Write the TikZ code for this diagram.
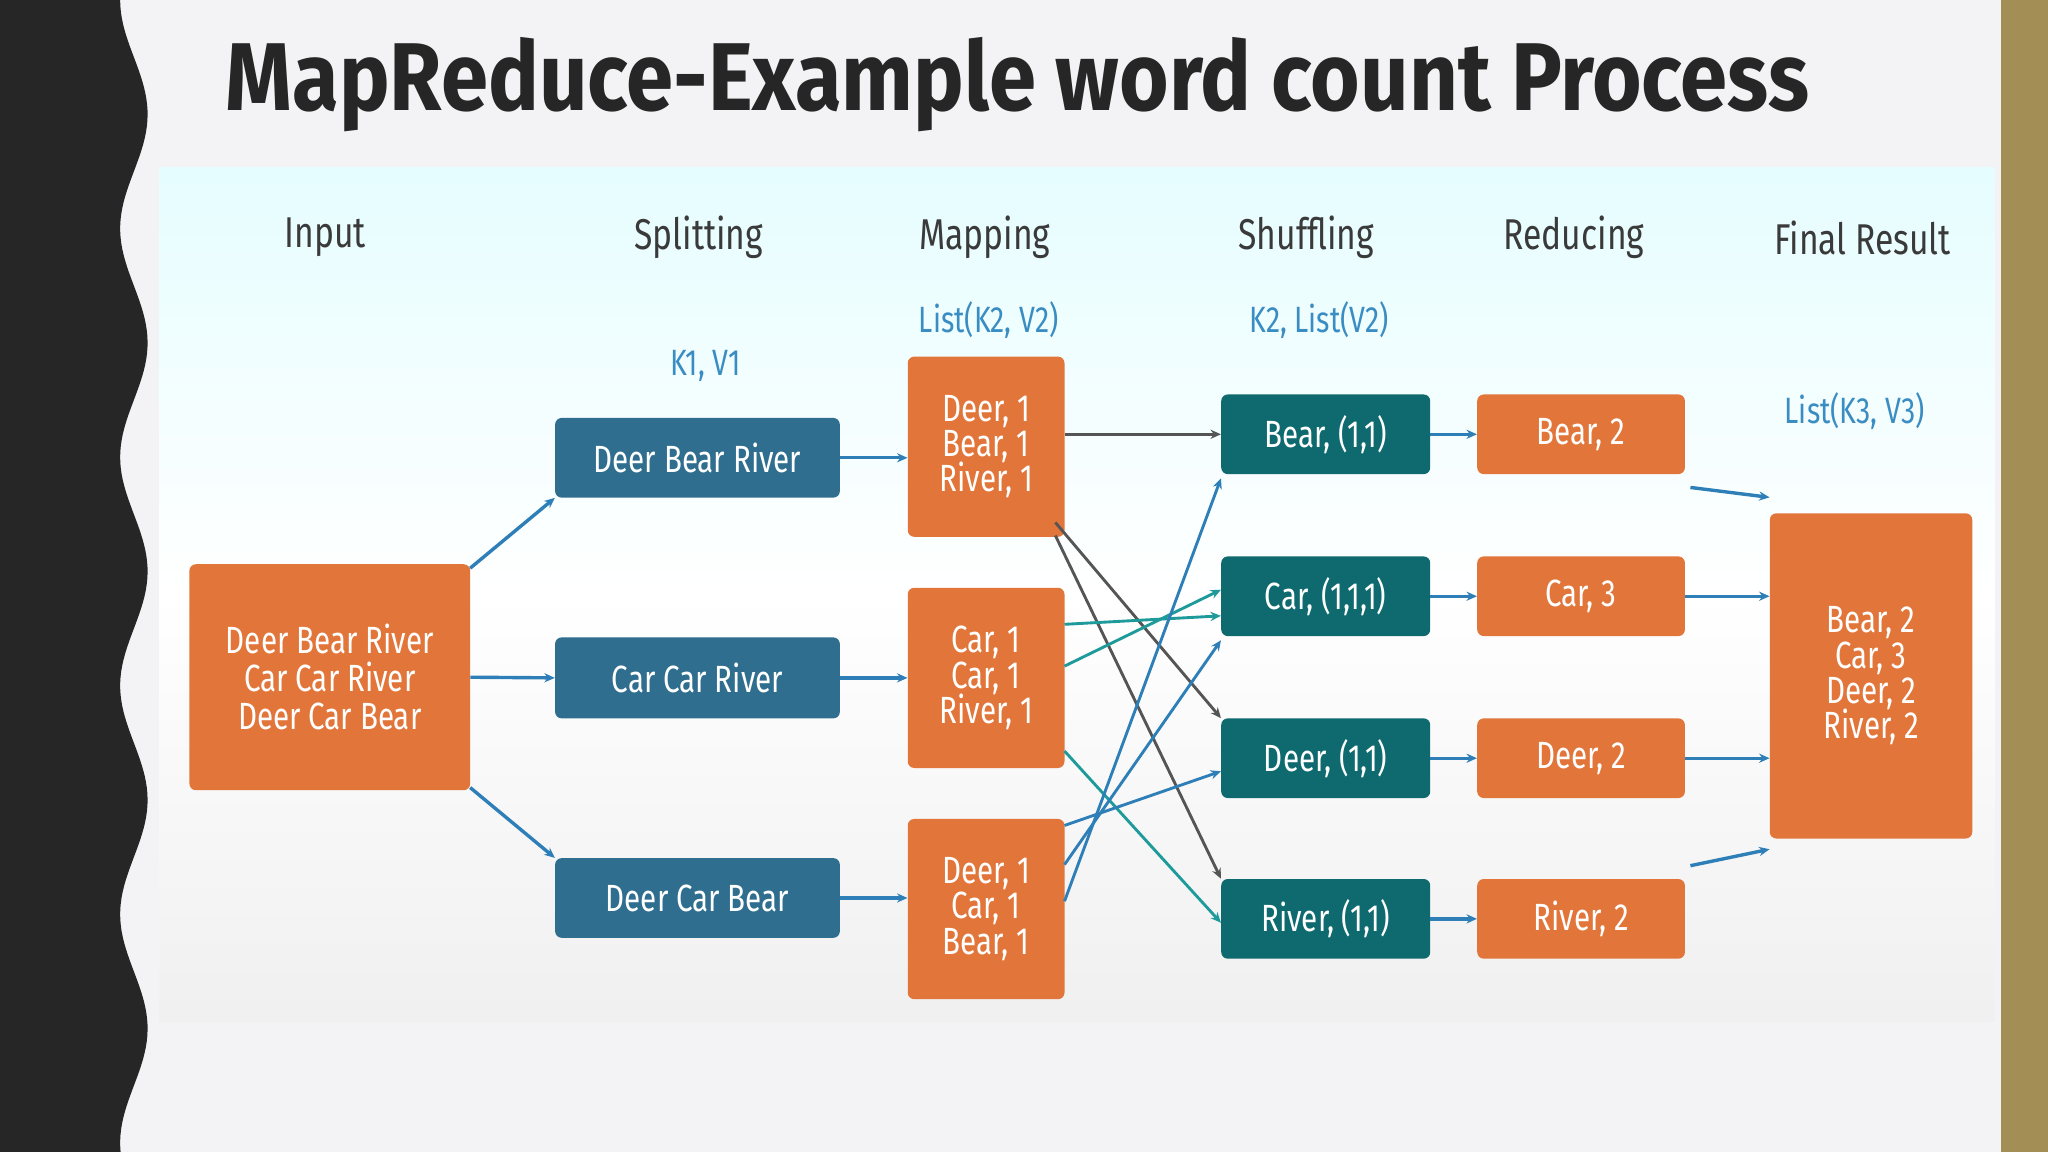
\documentclass[tikz,border=0pt]{standalone}
\usepackage{fontspec}
\setmainfont{Fira Sans}
\newfontfamily\cond[FakeStretch=0.78]{Fira Sans}
\newfontfamily\titlef[FakeStretch=0.72]{Fira Sans}
\usetikzlibrary{arrows.meta}
\definecolor{bgc}{HTML}{F3F3F5}
\definecolor{darkband}{HTML}{262626}
\definecolor{gold}{HTML}{A38F55}
\definecolor{org}{HTML}{E2763A}
\definecolor{blu}{HTML}{2F6E8E}
\definecolor{tea}{HTML}{0E6A6E}
\definecolor{lbl}{HTML}{3A8DC2}
\definecolor{hdr}{HTML}{3A3A3A}
\definecolor{lnblue}{HTML}{2E7FB8}
\definecolor{lngray}{HTML}{555555}
\definecolor{lnteal}{HTML}{1E9A9A}
\tikzset{
  x=1pt,y=-1pt,
  box/.style={rounded corners=5pt,text=white,font=\cond\fontsize{29}{32}\selectfont,inner sep=0pt,align=center},
  obox/.style={box,fill=org},
  bbox/.style={box,fill=blu},
  tbox/.style={box,fill=tea},
  hd/.style={font=\cond\fontsize{33}{36}\selectfont,text=hdr},
  kv/.style={font=\cond\fontsize{28}{30}\selectfont,text=lbl},
  ar/.style={-{Stealth[length=8pt,width=7pt]},line width=2.6pt,draw=lnblue},
  cr/.style={-{Stealth[length=8pt,width=7pt]},line width=2.2pt}
}
\begin{document}
\begin{tikzpicture}
\useasboundingbox (0,0) rectangle (1568,882);
\fill[bgc] (0,0) rectangle (1568,882);
\fill[darkband] (0,0) -- plot[domain=0:882,samples=200,variable=\t] ({102.5-10.5*cos(2.05714*\t)},\t) -- (0,882) -- cycle;
\fill[gold] (1532,0) rectangle (1568,882);
\node[anchor=center,text=darkband] (title) at (779,65) {\resizebox{1212pt}{56pt}{\titlef\bfseries\fontsize{60}{64}\selectfont MapReduce-Example word count Process}};
% panel
\shade[top color=blue!8!cyan!10!white,bottom color=gray!12,middle color=white] (122,128) rectangle (1527,782);
% headers
\node[hd] (h1) at (249,182) {Input};
\node[hd] (h2) at (535,182) {Splitting};
\node[hd] (h3) at (754,182) {Mapping};
\node[hd] (h4) at (1000,182) {Shuffling};
\node[hd] (h5) at (1205,182) {Reducing};
\node[hd] (h6) at (1426,182) {Final Result};
\node[kv] (k1) at (540,280) {K1, V1};
\node[kv] (k2) at (757,245) {List(K2, V2)};
\node[kv] (k3) at (1010,245) {K2, List(V2)};
\node[kv] (k4) at (1420,315) {List(K3, V3)};
% boxes
\node[obox,minimum width=215pt,minimum height=173pt] (in) at (252.5,518.5) {Deer Bear River\\[-3pt]Car Car River\\[-3pt]Deer Car Bear};
\node[bbox,minimum width=218pt,minimum height=61pt] (s1) at (534,350.5) {Deer Bear River};
\node[bbox,minimum width=218pt,minimum height=62pt] (s2) at (534,519) {Car Car River};
\node[bbox,minimum width=218pt,minimum height=61pt] (s3) at (534,687.5) {Deer Car Bear};
\node[obox,minimum width=120pt,minimum height=138pt] (m1) at (755,342) {Deer, 1\\[-5pt]Bear, 1\\[-5pt]River, 1};
\node[obox,minimum width=120pt,minimum height=138pt] (m2) at (755,519) {Car, 1\\[-5pt]Car, 1\\[-5pt]River, 1};
\node[obox,minimum width=120pt,minimum height=138pt] (m3) at (755,696) {Deer, 1\\[-5pt]Car, 1\\[-5pt]Bear, 1};
\foreach \n/\y/\t in {1/332.5/{Bear, (1,1)},2/456.5/{Car, (1,1,1)},3/580.5/{Deer, (1,1)},4/703.5/{River, (1,1)}}{
  \node[tbox,minimum width=160pt,minimum height=61pt] (sh\n) at (1015,\y) {\t};
}
\foreach \n/\y/\t in {1/332.5/{Bear, 2},2/456.5/{Car, 3},3/580.5/{Deer, 2},4/703.5/{River, 2}}{
  \node[obox,minimum width=159pt,minimum height=61pt] (r\n) at (1210.5,\y) {\t};
}
\node[obox,minimum width=155pt,minimum height=249pt] (fin) at (1432.5,517.5) {Bear, 2\\[-5pt]Car, 3\\[-5pt]Deer, 2\\[-5pt]River, 2};
% arrows input->split
\coordinate (a1) at (360,435); \coordinate (a3) at (360,603);
\draw[ar] (a1) -- (s1.south west);
\draw[ar] (in.east) -- (s2.west);
\draw[ar] (a3) -- (s3.north west);
\draw[ar] (s1.east) -- (s1.east -| m1.west);
\draw[ar] (s2.east) -- (s2.east -| m2.west);
\draw[ar] (s3.east) -- (s3.east -| m3.west);
% crossing
\coordinate (m1d) at (808,400); \coordinate (m1r) at (808,410);
\coordinate (m2a) at (815,478); \coordinate (m2b) at (815,510); \coordinate (m2r) at (815,575);
\coordinate (m3d) at (815,632); \coordinate (m3c) at (815,662); \coordinate (m3b) at (815,690);
\draw[cr,draw=lngray] (m1.east |- sh1.west) -- (sh1.west);
\draw[cr,draw=lngray] (m1d) -- (sh3.north west);
\draw[cr,draw=lngray] (m1r) -- (sh4.north west);
\draw[cr,draw=lnteal] (m2a) -- ([yshift=-15pt]sh2.west);
\draw[cr,draw=lnteal] (m2b) -- ([yshift=5pt]sh2.west);
\draw[cr,draw=lnteal] (m2r) -- ([yshift=-3pt]sh4.west);
\draw[cr,draw=lnblue] (m3d) -- ([yshift=-10pt]sh3.west);
\draw[cr,draw=lnblue] (m3c) -- ([yshift=-3pt]sh2.south west);
\draw[cr,draw=lnblue] (m3b) -- ([yshift=-3pt]sh1.south west);
\foreach \n in {1,2,3,4}{\draw[ar] (sh\n) -- (r\n);}
\draw[ar] ([yshift=-10pt,xshift=4pt]r1.south east) -- ([yshift=12pt]fin.north west);
\draw[ar] (r2) -- (r2 -| fin.west);
\draw[ar] (r3) -- (r3 -| fin.west);
\draw[ar] ([yshift=10pt,xshift=4pt]r4.north east) -- ([yshift=-8pt]fin.south west);
\end{tikzpicture}
\end{document}
